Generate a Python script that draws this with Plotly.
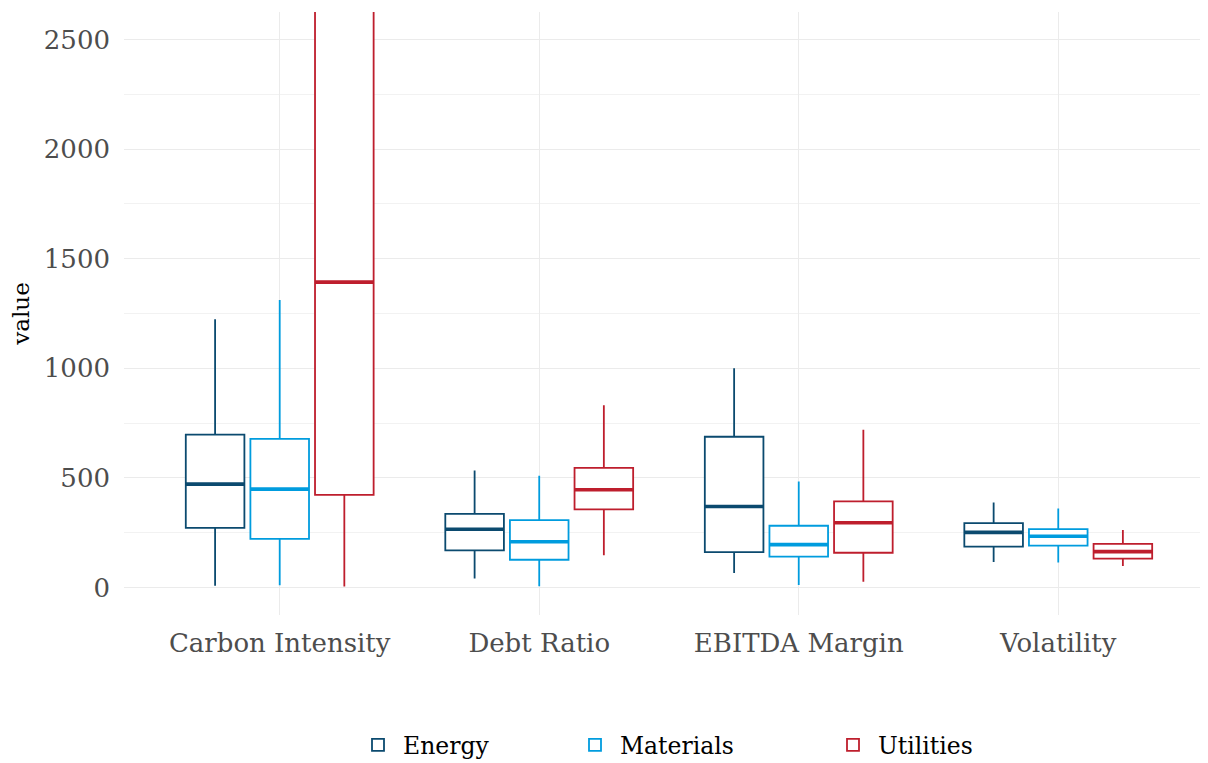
import plotly.graph_objects as go

metrics = ["Carbon Intensity", "Debt Ratio", "EBITDA Margin", "Volatility"]
sectors = ["Energy", "Materials", "Utilities"]
colors = {"Energy": "#0B4A6F", "Materials": "#009CDE", "Utilities": "#BE1E2D"}

# box statistics per sector, one value per metric
energy_lower = [8, 42, 67, 117]
energy_q1 = [272, 170, 162, 187]
energy_median = [472, 266, 370, 252]
energy_q3 = [698, 336, 688, 294]
energy_upper = [1224, 534, 1000, 388]

materials_lower = [11, 6, 12, 114]
materials_q1 = [222, 127, 141, 191]
materials_median = [449, 209, 196, 234]
materials_q3 = [678, 308, 282, 267]
materials_upper = [1311, 510, 484, 361]

utilities_lower = [5, 147, 27, 99]
utilities_q1 = [423, 357, 159, 132]
utilities_median = [1393, 446, 296, 164]
utilities_q3 = [2900, 546, 393, 199]
utilities_upper = [4800, 832, 720, 263]

stats = {
    "Energy": (energy_lower, energy_q1, energy_median, energy_q3, energy_upper),
    "Materials": (materials_lower, materials_q1, materials_median, materials_q3, materials_upper),
    "Utilities": (utilities_lower, utilities_q1, utilities_median, utilities_q3, utilities_upper),
}
legend_ids = {"Energy": "legend", "Materials": "legend2", "Utilities": "legend3"}
legend_left = {"Energy": 345, "Materials": 562, "Utilities": 820}

FONT = "DejaVu Serif"
fig = go.Figure()
for s in sectors:
    lo, q1, med, q3, up = stats[s]
    fig.add_trace(go.Box(
        name=s, x=metrics, q1=q1, median=med, q3=q3,
        lowerfence=lo, upperfence=up,
        offsetgroup=s, alignmentgroup="all", legend=legend_ids[s],
        line=dict(color=colors[s], width=1.8),
        fillcolor="white", boxpoints=False, whiskerwidth=0,
        hoverinfo="skip",
    ))
for s in sectors:
    lo, q1, med, q3, up = stats[s]
    fig.add_trace(go.Box(
        name=s, x=metrics, q1=med, median=med, q3=med,
        lowerfence=med, upperfence=med,
        offsetgroup=s, alignmentgroup="all",
        line=dict(color=colors[s], width=3.6),
        fillcolor="rgba(0,0,0,0)", boxpoints=False, whiskerwidth=0,
        showlegend=False, hoverinfo="skip",
    ))

grid = "#EBEBEB"
W, H = 1200, 755
legend_common = dict(
    orientation="h", xref="container", xanchor="left",
    y=1 - 737 / H, yref="container", yanchor="middle",
    font=dict(family=FONT, size=23.5, color="black"),
    itemwidth=40, bgcolor="rgba(0,0,0,0)",
)
fig.update_layout(
    width=W, height=H,
    boxmode="group", boxgap=0.253, boxgroupgap=0.093,
    plot_bgcolor="white", paper_bgcolor="white",
    margin=dict(l=116, r=0, t=3.5, b=147.5, autoexpand=False),
    font=dict(family=FONT, size=26, color="#4D4D4D"),
    xaxis=dict(
        type="category", categoryorder="array", categoryarray=metrics,
        range=[-0.6, 3.577], showgrid=True, gridcolor=grid, gridwidth=1.3,
        zeroline=False, showline=False, ticks="", automargin=False,
        tickfont=dict(family=FONT, size=26, color="#4D4D4D"),
        ticklabelstandoff=10,
    ),
    yaxis=dict(
        range=[-125, 2625], tickvals=[0, 500, 1000, 1500, 2000, 2500],
        showgrid=True, gridcolor=grid, gridwidth=1.3, zeroline=False,
        showline=False, ticks="", automargin=False,
        tickfont=dict(family=FONT, size=26, color="#4D4D4D"),
        ticklabelstandoff=13,
        minor=dict(tickvals=[250, 750, 1250, 1750, 2250], showgrid=True,
                   gridcolor="#F2F2F2", gridwidth=0.8),
        title=dict(text="value", font=dict(family=FONT, size=23, color="black"), standoff=10),
    ),
    legend=dict(x=legend_left["Energy"] / W, **legend_common),
    legend2=dict(x=legend_left["Materials"] / W, **legend_common),
    legend3=dict(x=legend_left["Utilities"] / W, **legend_common),
)

fig.write_html("out.html")
